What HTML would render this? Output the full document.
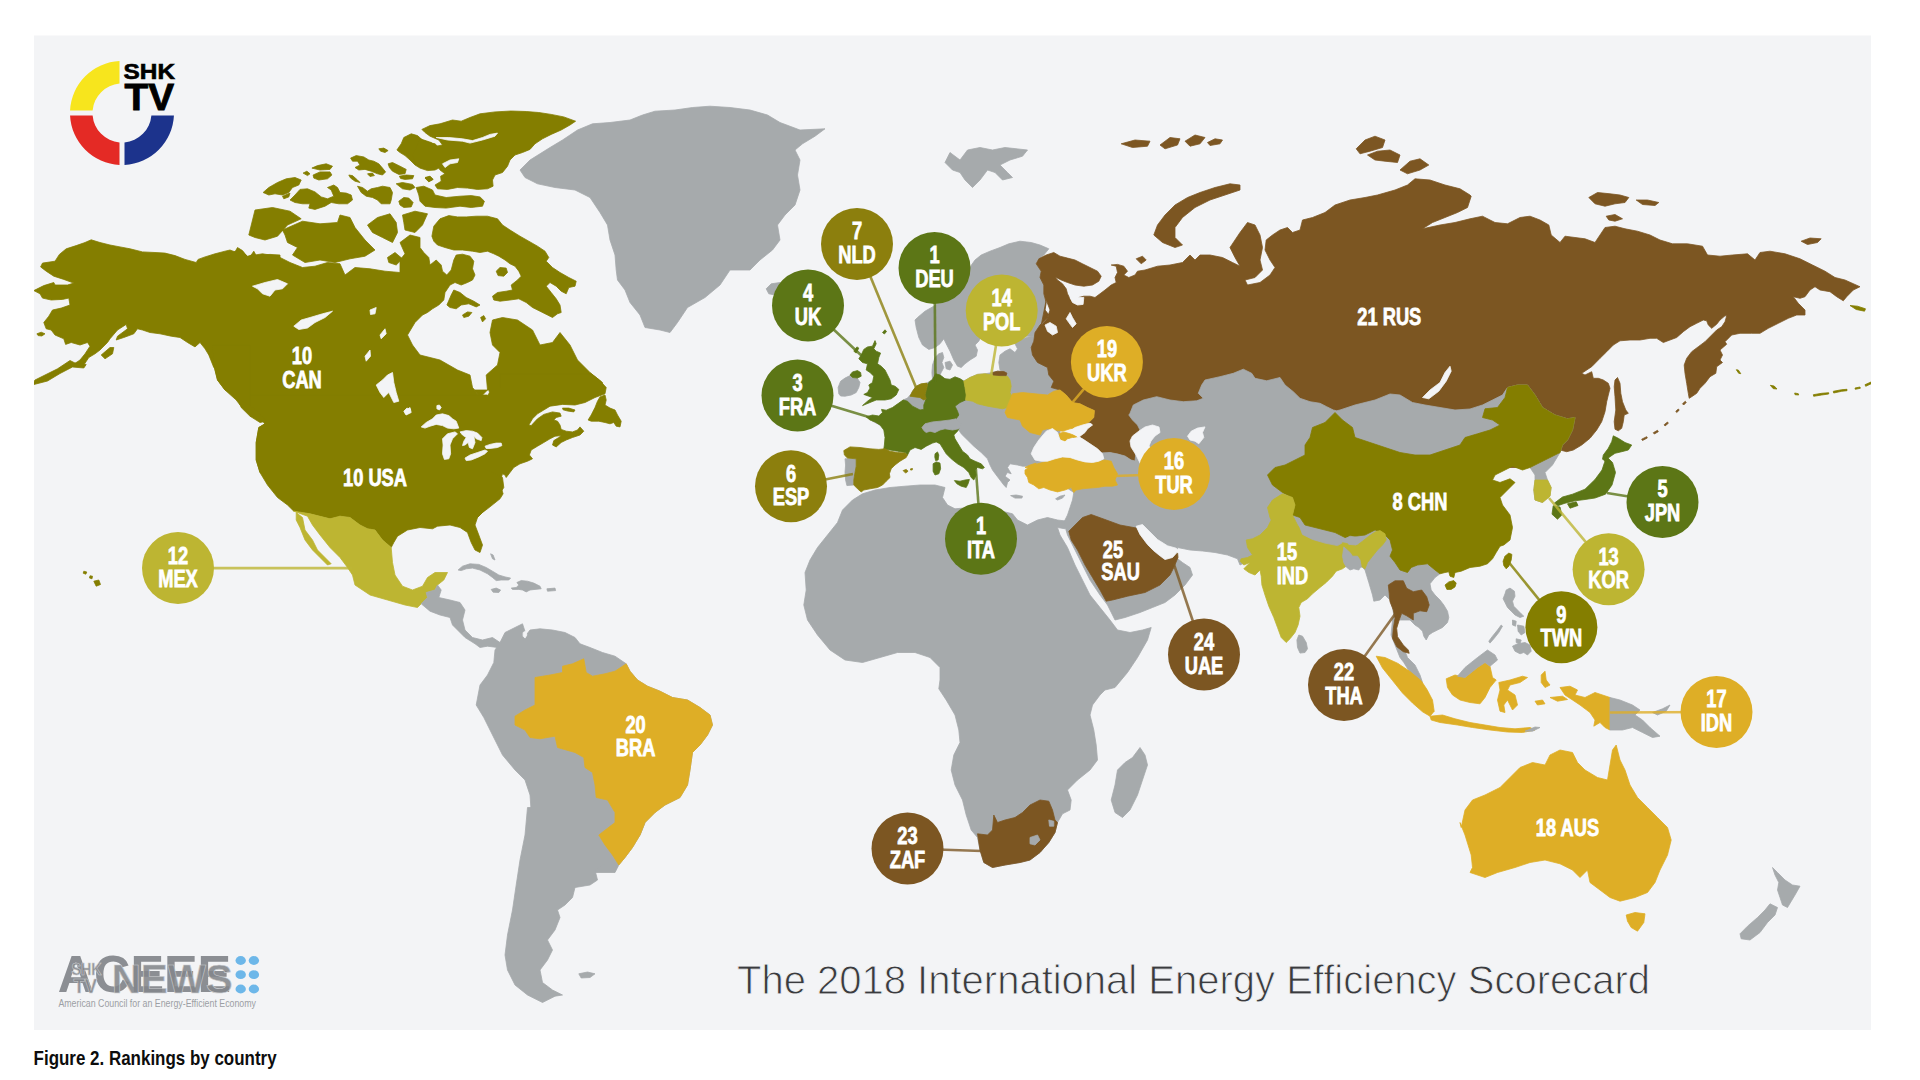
<!DOCTYPE html>
<html lang="en"><head><meta charset="utf-8"><title>The 2018 International Energy Efficiency Scorecard</title>
<style>
html,body{margin:0;padding:0;background:#fff;}
body{width:1920px;height:1080px;overflow:hidden;position:relative;font-family:"Liberation Sans",sans-serif;}
svg{position:absolute;left:0;top:0;display:block}
.lab{font-family:"Liberation Sans",sans-serif;font-weight:700;fill:#fff;text-anchor:middle;stroke:#fff;stroke-width:0.7px;vector-effect:non-scaling-stroke;paint-order:stroke}
</style></head><body>
<svg width="1920" height="1080" viewBox="0 0 1920 1080">
<defs><clipPath id="pc"><rect x="34" y="35.5" width="1837" height="994.5"/></clipPath><filter id="soft" x="-2%" y="-2%" width="104%" height="104%"><feGaussianBlur stdDeviation="0.7"/></filter></defs>
<rect x="0" y="0" width="1920" height="1080" fill="#ffffff"/>
<rect x="34" y="35.5" width="1837" height="994.5" fill="#f3f4f6"/>
<g clip-path="url(#pc)"><g filter="url(#soft)" stroke-linejoin="round">
<path d="M263.1 192.5L268.8 187.5L277.5 182.5L286.2 178.8L295 177.5L301.2 180L298.8 185L292.5 187.5L288.8 192.5L282.5 195L275 193.8L268.8 195.0Z" fill="#847e01" stroke="#847e01" stroke-width="0.8"/>
<path d="M282.5 196.2L290 193.1L288.8 196.9L283.8 198.8Z" fill="#847e01" stroke="#847e01" stroke-width="0.8"/>
<path d="M290 200L295 195L300 189.4L307.5 188.8L315 191.9L321.2 196.9L327.5 198.8L333.8 196.2L331.2 190L327.5 187.5L333.8 185L337.5 187.5L340 192.5L346.2 193.1L351.2 195L352.5 200L347.5 203.8L338.8 203.8L331.2 202.5L325 206.2L315 209.4L308.8 208.1L310 203.8L302.5 203.8L295 202.5Z" fill="#847e01" stroke="#847e01" stroke-width="0.8"/>
<path d="M303.1 173.1L306.9 171.2L310 173.8L307.5 175.6Z" fill="#847e01" stroke="#847e01" stroke-width="0.8"/>
<path d="M311.9 168.1L317.5 165.6L326.2 163.8L332.5 166.2L330 169.4L320 170.0Z" fill="#847e01" stroke="#847e01" stroke-width="0.8"/>
<path d="M313.1 175L320 171.9L330 171.9L331.9 175L327.5 178.8L318.8 180L313.8 178.1Z" fill="#847e01" stroke="#847e01" stroke-width="0.8"/>
<path d="M350.6 158.1L356.2 155.6L363.8 156.9L368.8 160L373.8 161.2L378.8 163.8L382.5 168.1L385.6 171.9L382.5 175L377.5 173.8L371.2 171.2L365 169.4L358.8 170L355 167.5L360 165L357.5 161.2L352.5 161.2Z" fill="#847e01" stroke="#847e01" stroke-width="0.8"/>
<path d="M378.8 148.8L383.8 148.1L388.1 150.6L385 152.5L380.6 151.2Z" fill="#847e01" stroke="#847e01" stroke-width="0.8"/>
<path d="M367.5 173.8L372.5 173.1L374.4 175.6L370 176.5Z" fill="#847e01" stroke="#847e01" stroke-width="0.8"/>
<path d="M348.8 175L352.5 175.6L357.5 180L360 182.5L355 181.2L350.6 178.1Z" fill="#847e01" stroke="#847e01" stroke-width="0.8"/>
<path d="M388.1 163.8L392.5 162.5L400 166.2L406.2 169.4L405 173.8L398.8 174.4L392.5 171.2L389.4 167.5Z" fill="#847e01" stroke="#847e01" stroke-width="0.8"/>
<path d="M399.4 176.2L406.2 175L413.8 175.6L412.5 178.8L405 179.4L400.6 178.5Z" fill="#847e01" stroke="#847e01" stroke-width="0.8"/>
<path d="M396.9 150L401.2 143.8L403.8 137.5L411.2 133.8L417.5 135.6L422.5 140L428.8 142.5L435 143.8L438.8 147.5L445 150L446.2 155L442.5 158.8L445 162.5L440 167.5L435 170L427.5 170.6L420 168.1L415 165L410 160L405 155.6L400 152.5Z" fill="#847e01" stroke="#847e01" stroke-width="0.8"/>
<path d="M357.5 186.2L362.5 187.5L367.5 191.2L371.2 188.8L377.5 187.5L382.5 186.2L390 187.5L392.5 192.5L391.2 200L390 203.8L381.2 203.8L377.5 200L372.5 197.5L366.2 196.2L361.2 192.5Z" fill="#847e01" stroke="#847e01" stroke-width="0.8"/>
<path d="M398.8 201.2L403.8 197.5L408.8 198.1L413.1 202.5L411.2 206.9L403.8 207.5L400 205.0Z" fill="#847e01" stroke="#847e01" stroke-width="0.8"/>
<path d="M396.2 183.8L402.5 182.5L412.5 184.4L415 187.5L410 190L402.5 188.8Z" fill="#847e01" stroke="#847e01" stroke-width="0.8"/>
<path d="M425 177.5L430 176.2L433.1 179.4L428.8 181.2Z" fill="#847e01" stroke="#847e01" stroke-width="0.8"/>
<path d="M421.9 129.4L430 125.6L440 123.8L452.5 120L461.2 121.2L470 117.5L480 113.8L495 111.9L511.2 111L526.2 111.5L538.8 112.5L551.2 114.4L563.8 116.9L575.6 121.2L570 125L561.2 130L551.2 134.4L542.5 138.8L535 143.8L530 149.4L522.5 152.5L515 155L510 160L507.5 166.2L502.5 172.5L495 175L492.5 180L493.1 186.2L487.5 188.8L477.5 189.4L467.5 188.1L457.5 187.5L447.5 189.4L437.5 188.8L435 185L441.2 181.2L440.6 176.2L445 173.8L440 170L437.5 165L432.5 167.5L425 168.8L420 167.5L415 162.5L412.5 155L415 150L420 138.8L423.8 140L431.2 142.5L436.2 146.2L442.5 145L438.8 140L430 136.2L425 132.5Z" fill="#847e01" stroke="#847e01" stroke-width="0.8"/>
<path d="M425 178.1L430 176.5L433.1 179.4L428.8 181.9Z" fill="#847e01" stroke="#847e01" stroke-width="0.8"/>
<path d="M416.2 187.5L423.8 186.2L432.5 190L435 195L446.2 197.5L460 196.2L471.2 195.6L480 196.9L484.4 201.2L482.5 206.2L471.2 207.5L460 206.2L446.2 208.1L435 207.5L425 206.2L420 201.2L418.8 195.0Z" fill="#847e01" stroke="#847e01" stroke-width="0.8"/>
<path d="M520 170L530 160L550 147.5L562.5 140L577.5 130L592.5 123.8L610 122.5L630 120L642.5 115L655 111.2L675 110L692.5 107.5L710 106.2L730 107.5L750 110L767.5 115L780 122.5L800 130L825 128.8L815 136.2L802.5 143.8L795 150L800 160L797.5 175L800 190L795 205L785 215L777.5 225L780 240L772.5 250L760 260L750 270L730 270L720 285L705 297.5L687.5 307.5L677.5 322.5L670 332.5L660 330L645 327.5L640 315L630 302.5L625 290L617.5 280L616.2 270L615 255L610 240L607.5 225L600 212.5L590 197.5L575 190L555 187.5L537.5 183.8L525 177.5Z" fill="#a6aaac" stroke="#a6aaac" stroke-width="0.8"/>
<path d="M40.6 266.9L42.5 263.1L55 261.2L59.4 254.4L66.2 248.8L76.2 245.6L85 242.5L91.2 239.8L100 242.5L110 245L120 246.9L130 248.8L142.5 251.9L155 252.5L165 253.1L175 255.6L185 259.4L196.2 262.5L198.1 259.4L205 256.9L215 253.8L225 251.2L230 250L235 251.9L237.5 247.5L242.5 250.6L247.5 256.9L251.2 255L253.8 251.2L256.9 256.9L261.2 257.5L265 255L270 254.4L280 255L280 367.5L213.8 367.5L208.8 355L205 348.8L200 342.5L195 346.9L187.5 342.5L180 337.5L171.2 336.2L160 333.8L150 332.5L142.5 330L137.5 328.8L133.8 333.8L123.8 337.5L116.2 340L117.5 336.2L127.5 328.8L126.2 324.4L117.5 330L110 338.8L107.5 342.5L100 350L95 353.8L88.8 357.5L83.8 365L72.5 365L80 360L85 353.8L90 346.2L87.5 342.5L80 345L71.2 342.5L65.6 344.4L63.8 338.8L55 335L51.2 330L46.2 328.8L43.8 322.5L48.8 316.2L52.5 310L61.2 308.1L70 305L68.8 298.1L62.5 299.4L51.2 300L42.5 298.1L40 293.8L33.8 290.6L43.8 285.6L53.8 282.5L55 285L67.5 285L73.8 283.1L63.8 279.4L53.8 276.2L46.2 271.2Z" fill="#847e01" stroke="#847e01" stroke-width="0.8"/>
<path d="M101.2 355L110 347.5L113.8 347.5L112.5 353.8L105 358.8Z" fill="#847e01" stroke="#847e01" stroke-width="0.8"/>
<path d="M36.9 333.8L41.2 332.2L45 333.8L41.9 336L38.1 335.6Z" fill="#847e01" stroke="#847e01" stroke-width="0.8"/>
<path d="M86.2 364.5L75 363L70 360.5L57.5 368.8L45 375L35 380L32 385L47.5 381L60 373.5L72.5 367L83.8 368.0Z" fill="#847e01" stroke="#847e01" stroke-width="0.8"/>
<path d="M248.8 235L255 210L272.5 207.5L290 211.2L301.2 218.8L287.5 225L277.5 236.2L265 240L255 237.5Z" fill="#847e01" stroke="#847e01" stroke-width="0.8"/>
<path d="M282.5 230L302.5 221.2L320 223.8L337.5 222.5L340 215L350 217.5L355 227.5L365 240L375 250L365 256.2L350 258.8L335 262.5L320 260L305 262.5L292.5 255L297.5 247.5L287.5 242.5L285 235.0Z" fill="#847e01" stroke="#847e01" stroke-width="0.8"/>
<path d="M367.5 225L377.5 217.5L390 213.8L396.2 222.5L397.5 232.5L392.5 242.5L382.5 237.5L372.5 232.5Z" fill="#847e01" stroke="#847e01" stroke-width="0.8"/>
<path d="M402.5 215L415 211.2L427.5 213.8L422.5 225L415 232.5L405 230L403.8 222.5Z" fill="#847e01" stroke="#847e01" stroke-width="0.8"/>
<path d="M387.5 257.5L395 252.5L402.5 258.8L396.2 265L388.8 262.5Z" fill="#847e01" stroke="#847e01" stroke-width="0.8"/>
<path d="M431.9 236.2L433.8 226.2L440 218.8L448.8 215.6L457.5 216.9L466.2 216.9L476.2 216.2L487.5 216.2L497.5 218.8L502.5 225L510 230L520 236.2L528.8 241.2L537.5 246.2L545 251.2L548.8 257.5L546.2 261.2L552.5 267.5L560 272.5L568.8 277.5L576.2 281.2L575 286.2L568.8 287.5L566.2 293.8L561.2 291.2L556.2 286.2L550 282.5L546.2 286.2L551.2 292.5L556.2 298.8L560 305L561.2 312.5L557.5 313.8L552.5 317.5L547.5 315L540 311.2L532.5 307.5L526.2 302.5L518.8 298.8L510 300L500 301.2L493.8 300L492.5 296.2L497.5 292.5L506.2 291.2L512.5 290L511.2 285L517.5 280L521.2 276.2L518.8 271.2L515 266.2L510 263.8L505 260L498.8 256.2L493.8 253.8L487.5 251.2L480 252.5L472.5 251.2L462.5 250L453.8 250L445 247.5L437.5 245L433.8 241.2Z" fill="#847e01" stroke="#847e01" stroke-width="0.8"/>
<path d="M496.2 271.2L500 267.5L506.2 268.1L507.5 272.5L503.8 276.2L498.1 275.6Z" fill="#847e01" stroke="#847e01" stroke-width="0.8"/>
<path d="M240 250L247.5 256.2L262.5 253.8L277.5 256.2L290 262.5L302.5 267.5L315 266.2L327.5 262.5L340 263.8L345 275L355 267.5L370 268.8L385 271.2L400 272.5L400 260L405 253.8L400 242.5L410 235L420 237.5L420 247.5L423.8 252.5L428.8 257.5L430 265L436.2 260L441.2 265L442.5 271.2L446.8 275L451.2 270L453.8 260L456.2 255L462.5 254.2L470 256.2L473.8 261.2L472.5 268.8L475 275L472.5 280L467.5 282.5L461.2 285L455 282.5L450 285L445 292.5L443.8 300L438.8 305L432.5 308.8L427.5 312.5L422.5 315L415 322.5L407.5 335L412.5 345L420 355L440 360L457.5 370L470 375L472.5 387.5L480 397.5L487.5 390L486.2 375L497.5 365L500 352.5L492.5 345L490 332.5L492.5 320L502.5 317.5L517.5 320L532.5 330L540 345L552.5 342.5L560 332.5L570 345L577.5 360L590 372.5L602.5 382.5L600 390L415 390L415 472.5L260 472.5L256.2 460L256.2 442.5L258.8 427.5L265 423.8L260 417.5L250 407.5L237.5 395L225 390L217.5 380L213.8 365L207.5 350L207.5 258.8L230 253.0Z" fill="#847e01" stroke="#847e01" stroke-width="0.8"/>
<path d="M446.9 305L451.2 295L453.8 290L460 292.5L466.2 297.5L473.8 301.2L480 305L476.2 306.9L468.8 303.8L461.2 305L456.2 308.8L450 307.5Z" fill="#847e01" stroke="#847e01" stroke-width="0.8"/>
<path d="M462.5 315L467.5 311.9L471.9 312.5L468.8 316.2L463.8 317.5Z" fill="#847e01" stroke="#847e01" stroke-width="0.8"/>
<path d="M480.6 317.5L483.8 315.6L485.6 318.8L482.5 321.9Z" fill="#847e01" stroke="#847e01" stroke-width="0.8"/>
<path d="M387.5 387.5L471.9 387.5L473.8 389.4L477.5 394L482.5 398.4L487.5 396.5L489.4 392.5L488.5 387.5L500 387.5L500 373.8L591.2 373.8L599.4 380L606.2 387.5L605 393.8L595 397.5L585 402.5L575 405L562.5 404.4L550 406.2L543.8 410L537.5 413.8L532.5 418.8L528.8 425L531.2 425.6L537.5 418.8L543.8 414.4L552.5 411.9L560 413.1L561.2 416.2L556.2 417.5L553.8 420L557.5 421.2L560 425L561.2 429.4L566.2 431.2L572.5 431.9L577.5 430L580 426.9L583.8 431.2L580 435L572.5 437.5L566.2 440L561.2 442.5L556.2 446.9L552.5 445L553.8 440.6L558.8 437.5L561.2 435.6L555 436.2L550 438.8L543.8 442.5L537.5 446.2L531.2 450L529.4 455L532.5 458.8L527.5 461.2L520 463.8L513.8 467.5L510 472.5L506.2 477.5L505 475L502.5 473.8L500.6 480L502.5 485L501.9 490L503.1 493.8L500 498.8L493.8 503.8L487.5 508.8L482.5 512.5L480 515L477.5 517.5L387.5 517.5Z" fill="#847e01" stroke="#847e01" stroke-width="0.8"/>
<path d="M600 396.9L605 395L606.2 400L605 405L610 408.1L615 410L617.5 415L621.2 421.2L620 426.9L616.2 426.2L613.8 422.5L610 423.8L605 422.5L598.8 421.2L591.2 421.2L588.1 420L591.2 415L595 407.5L597.5 401.2Z" fill="#847e01" stroke="#847e01" stroke-width="0.8"/>
<path d="M562.5 408.1L568.8 408.1L575 410L573.8 411.9L567.5 411L563.1 409.8Z" fill="#847e01" stroke="#847e01" stroke-width="0.8"/>
<path d="M237.5 395L250 407.5L260 417.5L265 423.8L258.8 427.5L256.2 442.5L256.2 460L260 472.5L267.5 485L277.5 497.5L287.5 505L293.8 511.2L310 513.8L330 518.8L340 516.2L350 517.5L360 525L367.5 528.8L375 530L382.5 540L391.2 547.5L393.8 542.5L397.5 536.2L407.5 530L420 527.5L432.5 528.8L437.5 526.2L450 525L460 527.5L467.5 532.5L471.2 542.5L475 550L480 552.5L482.5 545L478.8 535L475 525L477.5 517.5L487.5 507.5L497.5 497.5L503.8 487.5L502.5 477.5L487.5 470L487.5 395.0Z" fill="#847e01" stroke="#847e01" stroke-width="0.8"/>
<path d="M212.5 345L213.8 365L217.5 380L225 390L236.2 400L240 405L250 410L250 345.0Z" fill="#847e01" stroke="#847e01" stroke-width="0.8"/>
<path d="M237.5 398.8L247.5 403.8L257.5 411.2L266.2 421.2L260 422.5L250 416.2L241.2 407.5Z" fill="#847e01" stroke="#847e01" stroke-width="0.8"/>
<path d="M296.2 512.5L302.5 517.5L305 530L312.5 540L317.5 550L325 557.5L331.2 563.8L327.5 565L320 557.5L312.5 550L305 540L300 527.5L296.2 520.0Z" fill="#bdb533" stroke="#bdb533" stroke-width="0.8"/>
<path d="M293.8 511.2L307.5 516.2L312.5 525L320 535L330 547.5L340 557.5L347.5 567.5L352.5 575L355 585L370 595L387.5 600L405 605L417.5 607.5L421.2 603.8L427.5 597.5L426.2 592.5L435 590L437.5 585L443.8 580L447.5 572.5L435 572.5L427.5 577.5L422.5 586.2L412.5 590L402.5 586.2L395 575L392.5 562.5L391.2 547.5L382.5 540L375 530L367.5 528.8L360 525L350 517.5L340 516.2L330 518.8L310 513.8Z" fill="#bdb533" stroke="#bdb533" stroke-width="0.8"/>
<path d="M421.2 603.8L427.5 597.5L426.2 592.5L435 590L437.5 585L441.2 590L438.8 597.5L450 600L460 602.5L465 610L462.5 620L465 630L472.5 637.5L482.5 640L492.5 637.5L500 642.5L497.5 647.5L487.5 646.2L480 647.5L475 643.8L465 637.5L457.5 630L452.5 625L450 617.5L440 615L430 611.2Z" fill="#a6aaac" stroke="#a6aaac" stroke-width="0.8"/>
<path d="M458.1 570L462.5 566.2L470 563.8L478.8 564.4L486.2 567.5L492.5 571.2L498.8 575L505 576.9L510.6 578.1L508.8 580L501.2 580L496.2 580.6L492.5 577.5L487.5 573.8L480 570L472.5 568.1L466.2 568.8L461.2 570.6Z" fill="#a6aaac" stroke="#a6aaac" stroke-width="0.8"/>
<path d="M516.9 582.5L521.2 580.6L527.5 581.2L533.8 583.1L540 586.2L541.2 588.8L535 589.4L530 590L526.2 591.9L522.5 590L518.8 589.4L512.5 589.4L511.2 588.1L516.2 587.5L518.8 585.0Z" fill="#a6aaac" stroke="#a6aaac" stroke-width="0.8"/>
<path d="M491.2 589.4L496.2 588.1L500.6 590L498.8 592.5L493.1 592.2Z" fill="#a6aaac" stroke="#a6aaac" stroke-width="0.8"/>
<path d="M546.9 588.8L555 588.1L555.6 590.6L547.5 591.2Z" fill="#a6aaac" stroke="#a6aaac" stroke-width="0.8"/>
<path d="M93.8 581.2L98.8 580L100.5 584.5L96.2 586.2Z" fill="#847e01" stroke="#847e01" stroke-width="0.8"/>
<path d="M83.8 571.2L86.8 572L85.8 574.2L83.2 573.2Z" fill="#847e01" stroke="#847e01" stroke-width="0.8"/>
<path d="M90 575.8L92.5 576.2L92 578.8L89.5 578.0Z" fill="#847e01" stroke="#847e01" stroke-width="0.8"/>
<path d="M490.6 553.8L493.1 555L495 560L492.5 558.8Z" fill="#a6aaac" stroke="#a6aaac" stroke-width="0.8"/>
<path d="M500 642.5L505 632.5L515 627.5L522.5 623.8L526.2 635L530 630L540 628.8L552.5 630L565 632.5L575 637.5L580 643.8L590 647.5L602.5 652.5L615 656.2L626.2 663.8L630 671.2L637.5 680L647.5 686.2L660 691.2L672.5 697.5L687.5 700L700 707.5L710 715L712.5 725L707.5 735L700 745L692.5 752.5L690 770L687.5 785L680 797.5L665 805L655 812.5L645 822.5L640 835L632.5 847.5L625 857.5L618.8 865L615 872.5L525 872.5L527.5 850L530 830L531.2 812.5L530 795L525 780L515 770L502.5 755L492.5 735L483.8 717.5L476.2 705L480 685L487.5 675L493.8 662.5L495 650.0Z" fill="#a6aaac" stroke="#a6aaac" stroke-width="0.8"/>
<path d="M527.5 807.5L525 835L520 860L516.2 885L512.5 910L507.5 935L505 955L507.5 970L515 985L527.5 995L542.5 1002.5L555 996.2L562.5 995L552.5 990L542.5 982.5L540 970L547.5 960L552.5 950L547.5 940L555 930L560 917.5L557.5 910L565 905L572.5 897.5L575 887.5L590 885L597.5 880L595 870L602.5 865L615 863.8L620 857.5L630 847.5L640 835L645 822.5L652.5 807.5Z" fill="#a6aaac" stroke="#a6aaac" stroke-width="0.8"/>
<path d="M578.8 973.8L587.5 972L595 973.8L590 977.5L581.2 978.0Z" fill="#a6aaac" stroke="#a6aaac" stroke-width="0.8"/>
<path d="M562.5 666.2L572.5 663.8L583.8 658.8L586.2 672.5L592.5 676.2L605 673.8L615 671.2L626.2 663.8L630 671.2L637.5 680L647.5 686.2L660 691.2L672.5 697.5L687.5 700L700 707.5L710 715L712.5 725L707.5 735L700 745L692.5 752.5L690 770L687.5 785L680 797.5L665 805L655 812.5L645 822.5L640 835L632.5 847.5L625 857.5L618.8 865L612.5 855L605 845L598.8 835L615 822.5L615 812.5L607.5 800L596.2 797.5L595 785L592.5 772.5L585 767.5L583.8 757.5L575 752.5L557.5 747.5L555 736.2L540 738.8L530 737.5L525 730L515 725L515 716.2L525 710L535 705L535 677.5L550 675L562.5 672.5Z" fill="#deae27" stroke="#deae27" stroke-width="0.8"/>
<path d="M862.5 493.8L875 490L890 487.5L905 486.2L920 485L935 485L945 487.5L942.5 497.5L947.5 505L955 508.8L970 507.5L992.5 508.8L1012.5 513.8L1017.5 520L1027.5 525L1037.5 520L1047.5 517.5L1057.5 520L1067.5 521.2L1065 528.8L1057.5 527.5L1060 535L1067.5 547.5L1075 565L1082.5 580L1090 595L1100 607.5L1110 620L1117.5 630L1130 632.5L1142.5 630L1151.2 627.5L1147.5 640L1137.5 657.5L1127.5 672.5L1115 687.5L1105 690L1100 695L1092.5 705L1090 715L1093.8 730L1096.2 745L1097.5 760L1090 770L1077.5 780L1067.5 790L1071.2 800L1070 810L1062.5 813.8L1057.5 822.5L1055 832.5L1048.8 842.5L1040 852.5L1030 860L1020 862.5L1005 865L992.5 867.5L983.8 862.5L980 850L977.5 837.5L971.2 830L966.2 815L962.5 800L955 785L951.2 770L953.8 755L960 742.5L958.8 730L955 715L946.2 700L938.8 688.8L940 680L940 667.5L930 657.5L915 652.5L897.5 652.5L880 657.5L862.5 662.5L845 660L830 650L817.5 635L807.5 620L803.8 605L806.2 590L805 572.5L810 560L817.5 547.5L827.5 535L837.5 522.5L842.5 510L852.5 500.0Z" fill="#a6aaac" stroke="#a6aaac" stroke-width="0.8"/>
<path d="M977.5 833.8L987.5 835L992.5 830L993.8 815L997.5 822.5L1005 820L1015 817.5L1022.5 812.5L1030 805L1040 800L1048.8 801.2L1052.5 810L1055 820L1057.5 822.5L1055 832.5L1048.8 842.5L1040 852.5L1030 860L1020 862.5L1005 865L992.5 867.5L983.8 862.5L980 850.0Z" fill="#7c5724" stroke="#7c5724" stroke-width="0.8"/>
<path d="M1030 837.5L1037.5 835L1040 840L1035 845L1030 843.8Z" fill="#a6aaac" stroke="#a6aaac" stroke-width="0.8"/>
<path d="M1048.8 820L1053.8 821.2L1053.8 826.2L1049.5 826.2Z" fill="#a6aaac" stroke="#a6aaac" stroke-width="0.8"/>
<path d="M1140 747.5L1145 755L1147.5 765L1142.5 780L1137.5 795L1130 810L1122.5 817.5L1115 812.5L1111.2 800L1115 785L1117.5 770L1125 762.5L1132.5 757.5Z" fill="#a6aaac" stroke="#a6aaac" stroke-width="0.8"/>
<path d="M903.1 400L907.5 398.1L911.2 393.8L915 387.5L920 384.4L926.9 383.1L932.5 379.4L931.9 372.5L932.5 365L935 357.5L938.8 353.8L942.5 352.5L943.8 357.5L941.9 362.5L943.8 367.5L941.2 372.5L940 375L945 378.8L950 379.4L955 376.9L960 378.8L963.8 381.2L970 377.5L977.5 374.4L985 373.8L992.5 372.5L997.5 371.2L1003.8 371.5L1006.2 372.5L1000 370L998.8 362.5L1000 355L1005 351.2L1010 348.8L1015 352.5L1017.5 348.8L1015 343.8L1020 340L1026.2 337.5L1032.5 336.2L1040 335L1045 332.5L1060 332.5L1060 466.2L1022.5 466.2L1017.5 465L1010 463.8L1007.5 467.5L1011.2 473.8L1007.5 472.5L1005 476.2L1010 480L1007.5 482.5L1006.2 487.5L1003.8 485L1000 480L996.2 475L992.5 470L990 465L987.5 458.8L981.2 452.5L973.8 446.2L967.5 440L961.2 433.8L958.8 430L923.8 432.5L907.5 450L886.2 448.8L887.5 437.5L886.2 430L882.5 426.2L877.5 423.8L872.5 421.2L876.2 418.8L890 413.1L900 406.2Z" fill="#a6aaac" stroke="#a6aaac" stroke-width="0.8"/>
<path d="M945 362.5L950 361.2L952.5 365L950 370L946.2 368.8Z" fill="#a6aaac" stroke="#a6aaac" stroke-width="0.8"/>
<path d="M838.8 393.8L838.1 387.5L840.6 381.2L845 378.1L850 375.6L852.5 377.8L857.5 378.5L860 382.5L858.8 387.5L856.2 392.5L851.2 395L845 396.2L840.6 396.0Z" fill="#a6aaac" stroke="#a6aaac" stroke-width="0.8"/>
<path d="M845 458.8L856.2 458.8L856.2 466.2L855 472.5L853.8 480L853.5 485L846.9 485.6L845.6 480L845 472.5L845.6 465.0Z" fill="#a6aaac" stroke="#a6aaac" stroke-width="0.8"/>
<path d="M1010.6 495.6L1016.2 495L1022.5 496.2L1021.9 498.1L1015 498.1Z" fill="#a6aaac" stroke="#a6aaac" stroke-width="0.8"/>
<path d="M915 320L917.5 317.5L925 311.2L933.8 306.2L941.2 300L950 292.5L960 280L970.6 266.2L975 260L981.2 255L990 251.2L1000 247.5L1008.8 243.8L1020 241.2L1031.2 242.5L1040 245L1048.8 248.8L1043.8 255L1037.5 260L1036.2 263.8L1041.2 271.2L1040 277.5L1043.8 285L1043.8 293.8L1046.2 302.5L1045 310L1048.8 315L1046.2 320L1041.2 325L1043.8 332.5L1041.2 336.2L1025 336.2L1010 335L1002.5 330L1000 321.2L1002.5 310L1007.5 300L1007.5 290L1000 296.2L992.5 307.5L986.2 320L981.2 327.5L981.2 336.2L978.8 341.2L975 345L977.5 350L976.2 356.2L970 360L965 363.8L961.2 367.5L957.5 366.2L953.8 360L950 351.2L946.2 343.8L943.8 338.8L940 343.8L935 347.5L928.8 349.4L922.5 345L918.8 337.5L916.2 327.5Z" fill="#a6aaac" stroke="#a6aaac" stroke-width="0.8"/>
<path d="M875 340.6L872.5 346.2L867.5 346.9L863.8 349.4L861.2 355L858.8 358.8L862.5 362.5L867.5 363.8L866.2 370L870 372.5L873.8 376.2L872.5 382.5L868.8 385L870 388.1L867.5 392.5L863.8 394.4L868.8 396.2L872.5 397.5L867.5 401.2L862.5 405.6L870 402.5L876.2 400L885 400L891.2 398.8L896.2 395L898.8 389.4L895 386.2L891.2 385L890 380L887.5 375L885 370L881.2 366.2L877.5 363.8L878.8 357.5L880.6 353.1L876.2 351.2L873.8 348.8L876.2 343.8Z" fill="#5b7616" stroke="#5b7616" stroke-width="0.8"/>
<path d="M850 375L852.5 371.9L857.5 370.6L860.6 372.5L861.2 376.2L857.5 378.1L852.5 377.5Z" fill="#5b7616" stroke="#5b7616" stroke-width="0.8"/>
<path d="M882.5 332.5L885 329.8L886.5 331.5L884.4 334.0Z" fill="#5b7616" stroke="#5b7616" stroke-width="0.8"/>
<path d="M853.8 351.2L856.9 346.9L858.8 348.1L856.2 353.1Z" fill="#5b7616" stroke="#5b7616" stroke-width="0.8"/>
<path d="M866.2 416.9L872.5 415L878.8 416L882.5 412.5L881.5 409.4L886.2 410.2L892.5 407.5L898.8 403.1L903.1 400L907.5 401.2L912.5 406.2L920 410L923.8 409.4L923.8 405L926.2 398.8L925 395L926.2 390L927.5 385L928.8 382.5L932.5 379.4L935.6 373.8L940 375L945 378.8L950 379.4L955 376.9L960 378.8L963.8 381.2L965 387.5L966.2 395L965.6 400L960 402.5L955 406.2L957.5 411.2L958.8 415L956.2 418.8L958.8 428.8L957.5 431.2L953.8 435L955 438.8L958.8 445L962.5 451.2L967.5 455L970 458.8L975 461.2L981.2 463.8L984.4 467.5L982.5 468.8L977.5 467.5L975 470L976.2 475L973.8 480L971.2 477.5L968.8 472.5L963.8 467.5L957.5 463.8L951.2 458.8L946.2 453.8L943.1 448.8L940 443.8L936.2 441.9L932.5 443.1L926.2 446.2L921.2 449.4L915 447.5L910 450L907.5 455L905 452.5L897.5 451.2L890 450L883.8 448.8L884.4 445L885 437.5L883.8 430L880 425L875 421.9L870 420.0Z" fill="#5b7616" stroke="#5b7616" stroke-width="0.8"/>
<path d="M921.9 427.5L925 423.8L932.5 421.9L940 421.2L950 420L956.2 418.8L961.2 423.8L958.8 428.8L952.5 430L945 428.8L940 430L935 432.5L930 431.2L926.2 432.5L923.8 430.6Z" fill="#a6aaac" stroke="#a6aaac" stroke-width="0.8"/>
<path d="M954.4 480.6L960 481.2L965 480L969.4 479.4L968.1 483.8L966.2 487.5L961.2 486.2L956.9 483.8Z" fill="#5b7616" stroke="#5b7616" stroke-width="0.8"/>
<path d="M933.1 463.8L936.2 461.9L940 463.1L940.6 468.8L938.8 473.8L935 475L933.1 471.2Z" fill="#5b7616" stroke="#5b7616" stroke-width="0.8"/>
<path d="M935 453.8L937.5 451.9L938.8 455L938.1 460L935.6 460.6L934.8 456.9Z" fill="#5b7616" stroke="#5b7616" stroke-width="0.8"/>
<path d="M910 396.2L912.5 391.2L916.2 386.2L921.2 383.8L926.9 383.1L927.5 385L926.2 390L925 395L926.2 398.8L923.8 400L920 397.5L915 396.9Z" fill="#8c7f0e" stroke="#8c7f0e" stroke-width="0.8"/>
<path d="M843.8 450.6L850 446.9L860 447.5L870 448.8L878.8 449.4L885 448.8L890 451.2L897.5 452.5L905 453.1L907.5 455L906.2 457.5L900 461.2L895 465L891.2 468.8L889.4 473.8L890 477.5L886.2 481.2L882.5 485L877.5 487.5L870 488.8L863.8 490L861.2 491.9L857.5 488.8L853.8 485L853.8 480L855 472.5L856.2 466.2L856.2 458.8L847.5 458.1L844.4 455.0Z" fill="#8c7f0e" stroke="#8c7f0e" stroke-width="0.8"/>
<path d="M903.1 470.6L906.2 469.4L908.1 471.2L905.6 473.1Z" fill="#8c7f0e" stroke="#8c7f0e" stroke-width="0.8"/>
<path d="M910.6 468.8L912.5 468.5L912.2 470L910.5 470.0Z" fill="#8c7f0e" stroke="#8c7f0e" stroke-width="0.8"/>
<path d="M963.8 381.2L970 377.5L977.5 374.4L985 373.8L992.5 375L1000 375.6L1007.5 376.2L1010 380L1011.2 386.2L1010 392.5L1012.5 397.5L1011.2 402.5L1007.5 407.5L1002.5 408.8L995 407.5L987.5 406.2L982.5 405L977.5 403.8L972.5 401.2L965.6 400L966.2 395L965 387.5Z" fill="#bdb533" stroke="#bdb533" stroke-width="0.8"/>
<path d="M992.5 372.5L997.5 371.2L1003.8 371.5L1006.9 373.1L1006.2 375.6L1000 375.6L993.1 375.0Z" fill="#7c5724" stroke="#7c5724" stroke-width="0.8"/>
<path d="M1036.2 263.8L1038.8 258.8L1046.2 255L1053.8 252.5L1060 256.2L1067.5 258.1L1075 260L1082.5 263.8L1090 267.5L1097.5 271.2L1101.2 276.2L1098.8 281.2L1092.5 285L1083.8 286.2L1075 285L1067.5 282.5L1061.2 280L1055 276.9L1057.5 280L1062.5 283.8L1066.2 288.8L1067.5 293.8L1070 298.8L1073.8 302.5L1078.8 297.5L1083.8 296.2L1090 296.2L1095 297.5L1100 293.8L1105 290L1111.2 285L1116.2 282.5L1115 277.5L1117.5 272.5L1116.2 266.2L1111.2 265L1117.5 264.4L1123.8 266.2L1127.5 271.2L1123.8 275L1128.8 277.5L1135 275L1137.5 271.2L1145 270L1157.5 266.2L1170 265L1182.5 262.5L1190 255L1195 260L1200 255L1210 255L1222.5 257.5L1232.5 262.5L1240 266.2L1235 257.5L1230 247.5L1235 240L1240 232.5L1247.5 222.5L1255 225L1260 235L1262.5 247.5L1260 260L1262.5 270L1255 277.5L1245 280L1247.5 285L1260 282.5L1270 275L1275 267.5L1270 260L1265 250L1266.2 240L1272.5 235L1280 230L1287.5 227.5L1292.5 232.5L1300 230L1302.5 220L1312.5 217.5L1325 212.5L1335 205L1350 200L1365 197.5L1377.5 195L1395 190L1407.5 185L1415 178.8L1430 180L1445 185L1460 188.8L1470 195L1471.2 196.2L1467.5 207.5L1457.5 212.5L1445 217.5L1432.5 222.5L1422.5 228.8L1440 225L1455 222.5L1470 218.8L1482.5 216.2L1495 222.5L1507.5 223.8L1520 217.5L1530 216.2L1540 220L1548.8 225L1551.2 235L1560 242.5L1565 236.2L1575 237.5L1585 238.8L1595 242.5L1600 235L1605 227.5L1615 226.2L1625 228.8L1637.5 231.2L1650 235L1660 240L1672.5 243.8L1687.5 243.8L1702.5 246.2L1707.5 255L1720 256.2L1732.5 255L1747.5 253.8L1755 260L1760 252.5L1770 251.2L1785 253.8L1800 258.8L1812.5 265L1825 271.2L1835 277.5L1845 280L1858.8 286.2L1860 286.7L1853.3 290L1846.7 296.7L1843.3 300.8L1836.7 296.7L1830 291.7L1820 290L1815 286.7L1810 290L1805 296.7L1800 298.3L1793.3 296.7L1798.3 303.3L1805 310L1805 315L1796.7 315L1788.3 318.3L1778.3 323.3L1768.3 328.3L1760 333.3L1751.7 333.3L1740 333.3L1731.7 335L1725 341.7L1726.7 344.2L1720 350L1722.5 355L1720 360L1722.5 362.5L1716.7 366.7L1715.8 373.3L1710 376.7L1705 383.3L1700 388.3L1696.7 393.3L1691.7 396.7L1689.2 398.3L1688.3 393.3L1686.7 383.3L1685 373.3L1684.2 365L1686.7 358.3L1691.7 351.7L1698.3 346.7L1705 341.7L1711.7 335L1716.7 330L1721.7 326.7L1725 321.7L1726.7 315.8L1725 315.8L1720 320L1716.7 324.2L1711.7 328.3L1708.3 325L1706.7 320.8L1703.3 320L1696.7 323.3L1690 326.7L1683.3 331.7L1676.7 337.5L1670 340L1663.3 342.5L1656.7 338.3L1650 338.3L1640 340L1630 340L1620 340.8L1613.3 345L1606.7 351.7L1600 358.3L1591.7 366.7L1581.7 373.3L1585 375L1591.7 371.7L1593.3 378.3L1598.3 378.3L1603.3 380L1608.3 383.3L1610 388.3L1608.3 395L1606.7 401.7L1605 411.7L1601.7 421.7L1596.7 430L1590 438.3L1581.7 445L1573.3 450L1566.7 451.7L1560 450L1560 452.5L1525 467.5L1425 467.5L1325 430L1275 405L1200 412.5L1140 430L1136.2 457.5L1135 461.2L1131.2 460L1125 456.2L1117.5 453.8L1110 452.5L1102.5 453.8L1097.5 448.8L1090 443.8L1082.5 438.8L1080 436.2L1087.5 428.8L1092.5 425L1091.2 423.1L1087.5 425L1085 425L1090 421.2L1093.8 417.5L1094.4 410.6L1087.5 407.5L1080 403.8L1072.5 402.5L1066.2 395L1060 390L1051.2 387.5L1053.8 381.2L1048.8 375L1047.5 367.5L1037.5 362.5L1032.5 355L1031.2 347.5L1033.8 341.2L1035 332.5L1040 325L1047.5 317.5L1050 310L1046.2 300L1041.2 325L1046.2 320L1048.8 315L1045 310L1046.2 302.5L1043.8 293.8L1043.8 285L1040 277.5L1041.2 271.2Z" fill="#7c5724" stroke="#7c5724" stroke-width="0.8"/>
<path d="M1153.8 235L1157.5 225L1165 215L1175 205L1187.5 197.5L1200 192.5L1215 187.5L1230 183.8L1240 185L1240 190L1225 195L1210 200L1195 207.5L1182.5 217.5L1175 227.5L1175 237.5L1182.5 245L1175 247.5L1162.5 242.5Z" fill="#7c5724" stroke="#7c5724" stroke-width="0.8"/>
<path d="M1136.2 258.8L1142.5 256.2L1146.2 260L1141.2 263.8Z" fill="#7c5724" stroke="#7c5724" stroke-width="0.8"/>
<path d="M1121.2 143.8L1135 140L1150 141.2L1147.5 146.2L1132.5 147.5Z" fill="#7c5724" stroke="#7c5724" stroke-width="0.8"/>
<path d="M1160 145L1170 137.5L1180 138.8L1177.5 145L1165 148.8Z" fill="#7c5724" stroke="#7c5724" stroke-width="0.8"/>
<path d="M1185 141.2L1195 135L1205 137.5L1200 143.8L1190 146.2Z" fill="#7c5724" stroke="#7c5724" stroke-width="0.8"/>
<path d="M1207.5 142.5L1215 138.8L1222.5 140L1220 143.8L1210 145.5Z" fill="#7c5724" stroke="#7c5724" stroke-width="0.8"/>
<path d="M1356.2 148.8L1365 140L1375 136.2L1385 140L1382.5 147.5L1370 151.2L1360 153.8Z" fill="#7c5724" stroke="#7c5724" stroke-width="0.8"/>
<path d="M1367.5 155L1377.5 151.2L1390 150L1400 155L1397.5 162.5L1385 161.2L1375 160.0Z" fill="#7c5724" stroke="#7c5724" stroke-width="0.8"/>
<path d="M1400 170L1410 161.2L1420 158.8L1428.8 165L1420 170L1407.5 173.8Z" fill="#7c5724" stroke="#7c5724" stroke-width="0.8"/>
<path d="M1588.8 197.5L1597.5 192.5L1610 193.8L1620 195L1628.8 197.5L1625 202.5L1615 203.8L1605 206.2L1595 203.8Z" fill="#7c5724" stroke="#7c5724" stroke-width="0.8"/>
<path d="M1636.2 200L1647.5 200L1658.8 202.5L1655 205.5L1642.5 204.5Z" fill="#7c5724" stroke="#7c5724" stroke-width="0.8"/>
<path d="M1606.2 216.2L1615 214.5L1622.5 218.8L1615 221.2L1608.8 220.0Z" fill="#7c5724" stroke="#7c5724" stroke-width="0.8"/>
<path d="M1801.2 241.2L1810 238L1821.2 238.8L1817.5 242.5L1807.5 244.5Z" fill="#7c5724" stroke="#7c5724" stroke-width="0.8"/>
<path d="M1617.5 377.5L1620 383.3L1620.8 393.3L1622.5 401.7L1625.8 410L1628.3 413.3L1624.2 415L1623.3 421.7L1621.7 428.3L1618.3 430.8L1615 429.2L1614.2 421.7L1615.8 410L1615 396.7L1614.2 386.7L1615 380.0Z" fill="#7c5724" stroke="#7c5724" stroke-width="0.8"/>
<path d="M1850 305.5L1857.5 306.2L1865.5 308.8L1864.5 311.2L1856.2 309.5Z" fill="#847e01" stroke="#847e01" stroke-width="0.8"/>
<path d="M1055 440L1100 453L1110 452.5L1117.5 454L1125 456L1131 460L1135 461L1138 435L1140 430L1137.5 425L1132.5 420L1128.8 415L1130 413.3L1133.3 405L1143.3 400L1156.7 396.7L1170 400L1183.3 401.7L1196.7 400.8L1203.3 398.3L1198.3 393.3L1201.7 385L1205 380L1220 376.7L1233.3 373.3L1243.3 369.2L1251.7 373.3L1255 378.3L1266.7 380.8L1280 377.5L1285 385L1293.3 391.7L1300 398.3L1310 401.7L1320 403.3L1326.7 406.7L1333.3 410L1336.7 410.8L1340 410L1355 405L1375 400L1390 394L1400 395L1412.5 402.5L1425 405L1440 407.5L1455 410L1470 409L1482.5 405L1492.5 400L1502.5 395L1507.5 387.5L1517.5 385L1527.5 385L1535 395L1542.5 407.5L1555 415L1567.5 418.8L1575 417.5L1572.5 430L1567.5 440L1562.5 445L1560 452.5L1552.5 465L1545 472.5L1547.5 480L1551 487.5L1550 496L1542.5 502.5L1535 500L1533.8 490L1535 480L1535 475L1530 467.5L1520 455L1480 455L1470 520L1440 570L1440 573.8L1435 577.5L1430 583.8L1431.2 590L1435 595L1440 600L1443.8 605L1447.5 611.2L1448.8 617.5L1447.5 622.5L1442.5 627.5L1437.5 630L1432.5 632.5L1428.8 635L1426.2 640L1423.8 636.2L1422.5 631.2L1418.8 627.5L1415 625L1410 620L1397.5 620L1395 632.5L1397.5 642.5L1405 651L1407.5 657.5L1415 665L1420 675L1422.5 682.5L1417.5 680L1410 672.5L1403.8 662.5L1400 657.5L1395 645L1391 635L1392.5 620L1393.8 615L1392.5 607.5L1390 600L1385 595L1380 600L1373.8 601.2L1372.5 595L1368.8 582.5L1365 570L1362.5 567.5L1355 565L1350 560L1300 560L1245 562.5L1240 565L1237.5 558.8L1227.5 555L1215 552.5L1202.5 551L1190 550L1177.5 547.5L1176 557.5L1182.5 562.5L1190 567.5L1192.5 575L1185 585L1175 595L1165 602.5L1152.5 607.5L1140 612.5L1125 617.5L1115 620L1112.5 615L1107.5 605L1100 595L1090 580L1082.5 565L1075 550L1067.5 535L1063.8 522.5L1065 520L1067.5 515L1070 507.5L1072.5 500L1073.8 492.5L1055 480.0Z" fill="#a6aaac" stroke="#a6aaac" stroke-width="0.8"/>
<path d="M1068.8 531.2L1082.5 517.5L1091.2 514.5L1105 519.5L1120 525L1136.2 528L1140 535L1147.5 545L1153.8 551.2L1160 556.2L1165 560L1172.5 557.5L1177.5 551.2L1178 557.5L1173.8 567.5L1170 575L1160 585L1145 592.5L1127.5 596.2L1112.5 600L1106.2 601.2L1100 590L1092.5 577.5L1085 565L1077.5 550L1071.2 540.0Z" fill="#7c5724" stroke="#7c5724" stroke-width="0.8"/>
<path d="M1335 412.5L1342.5 420L1352.5 427.5L1355 437.5L1370 442.5L1385 447.5L1400 452.5L1415 455L1430 455L1445 450L1460 445L1465 437.5L1477.5 433.8L1490 430L1500 425L1492.5 420L1482.5 417.5L1485 408.8L1497.5 407.5L1505 397.5L1507.5 387.5L1517.5 385L1527.5 385L1535 395L1542.5 407.5L1555 415L1567.5 418.8L1575 417.5L1572.5 430L1567.5 440L1562.5 445L1560 452.5L1550 457.5L1540 462.5L1530 467.5L1522.5 470L1512.5 466.2L1505 470L1495 475L1492.5 480L1500 482.5L1510 478.8L1515 482.5L1507.5 490L1500 497.5L1502.5 505L1510 515L1512.5 527.5L1510 540L1503.8 545L1500 546.2L1496.2 552.5L1492.5 558.8L1487.5 563.8L1480 566.2L1470 567.5L1461.2 571.2L1455 572.5L1453.8 577.5L1450 576.2L1448.8 571.8L1445 572.5L1440 573.8L1435 570L1427.5 563.8L1417.5 565L1411.2 567.5L1407.5 572.5L1400 570L1395 562.5L1390 556.2L1392.5 550L1390 540L1382.5 532.5L1375 530L1365 535L1355 536.2L1345 537.5L1335 532.5L1325 530L1315 527.5L1305 525L1300 517.5L1292.5 515L1295 505L1292.5 497.5L1282.5 492.5L1272.5 485L1267.5 475L1275 467.5L1285 465L1295 460L1305 455L1305 445L1310 437.5L1312.5 427.5L1325 422.5Z" fill="#847e01" stroke="#847e01" stroke-width="0.8"/>
<path d="M1445 585L1448.8 581.9L1453.8 580.6L1456.2 583.1L1455 586.9L1451.2 589.4L1446.9 589.4Z" fill="#847e01" stroke="#847e01" stroke-width="0.8"/>
<path d="M1503.1 561.2L1505 556.2L1508.8 553.1L1511.9 554.4L1511.2 560L1508.8 566.2L1506.2 568.8L1503.8 565.6Z" fill="#847e01" stroke="#847e01" stroke-width="0.8"/>
<path d="M1282.5 493.8L1292.5 497.5L1295 505L1292.5 515L1297.5 525L1300 528.8L1302.5 533.8L1312.5 538.8L1325 542.5L1337.5 545L1341.2 542.5L1348.8 543.8L1357.5 545L1362.5 541.2L1368.8 536.2L1375 531.9L1380 530.6L1385 533.8L1386.2 540L1382.5 545L1377.5 550L1372.5 556.2L1367.5 562.5L1365 568.8L1361.2 566.2L1360 560L1357.5 556.2L1352.5 556.2L1350 552.5L1343.8 550L1342.5 556.2L1343.8 562.5L1346.2 566.2L1342.5 568.8L1336.2 571.2L1332.5 576.2L1326.2 582.5L1320 587.5L1312.5 593.8L1307.5 598.8L1301.2 602.5L1298.8 607.5L1300 616.2L1298.1 625L1295 632.5L1290 638.8L1286.2 642.5L1281.2 637.5L1277.5 627.5L1273.8 617.5L1268.8 606.2L1265 595L1261.9 585L1261.2 576.2L1260 570L1255 575L1248.8 572.5L1243.8 568.8L1250 562.5L1243.8 565L1240 561.2L1241.2 558.8L1247.5 557.5L1252.5 555L1247.5 547.5L1246.2 540L1252.5 538.8L1260 535L1267.5 527.5L1271.2 520L1270 517.5L1267.5 507.5L1272.5 500.0Z" fill="#bdb533" stroke="#bdb533" stroke-width="0.8"/>
<path d="M1300 527.5L1303.8 525.6L1312.5 530L1322.5 533.8L1332.5 537.5L1341.2 538.8L1341.9 543.1L1337.5 545.6L1325 543.1L1312.5 539.4L1302.5 534.4Z" fill="#a6aaac" stroke="#a6aaac" stroke-width="0.8"/>
<path d="M1345 538.8L1350 536.2L1357.5 537.5L1360 541.2L1356.2 545L1348.8 544.4Z" fill="#a6aaac" stroke="#a6aaac" stroke-width="0.8"/>
<path d="M1343.8 546.9L1350 552.5L1352.5 556.2L1357.5 556.2L1360 560L1361.2 566.2L1358.8 570L1353.8 568.8L1350 570L1346.2 566.9L1343.8 562.5L1342.5 556.2Z" fill="#a6aaac" stroke="#a6aaac" stroke-width="0.8"/>
<path d="M1298.8 635L1302.5 636.2L1306.2 642.5L1307.5 648.8L1305 652.5L1300 653.1L1297.5 647.5L1296.9 640.0Z" fill="#a6aaac" stroke="#a6aaac" stroke-width="0.8"/>
<path d="M1388.3 585L1395 580.8L1403.3 580.8L1406.7 588.3L1413.3 591.7L1421.7 590L1426.7 596.7L1429.2 605L1426.7 611.7L1420 610.8L1413.3 613.3L1413.3 620L1406.7 615.8L1401.7 613.3L1399.2 620L1396.7 628.3L1397.5 636.7L1403.3 645L1408.3 650L1409.2 653.3L1403.3 651.7L1396.7 646.7L1392.5 638.3L1393.3 628.3L1395 618.3L1393.3 610L1390 601.7L1389.2 593.3Z" fill="#7c5724" stroke="#7c5724" stroke-width="0.8"/>
<path d="M1535 480L1547.5 480L1551.2 487.5L1550 496.2L1542.5 502.5L1535 500L1533.8 490.0Z" fill="#bdb533" stroke="#bdb533" stroke-width="0.8"/>
<path d="M1613.3 435.8L1618.3 438.3L1625 442.5L1631.7 445L1628.3 450L1621.7 451.7L1615 453.3L1610 456.7L1605 460.8L1602.5 459.2L1603.3 455L1608.3 448.3L1611.7 441.7Z" fill="#5b7616" stroke="#5b7616" stroke-width="0.8"/>
<path d="M1606.2 456.2L1612.5 462.5L1615.5 472.5L1612 485L1605.5 494.2L1595 498L1585 499.5L1575 500.8L1565 503.2L1557.5 505.8L1554.5 503L1562.5 497L1572.5 494.2L1585 489.2L1595 479.5L1602 470L1604.5 462.5Z" fill="#5b7616" stroke="#5b7616" stroke-width="0.8"/>
<path d="M1553.2 505.8L1560 507L1561.8 515L1557.5 519.2L1552 514.2Z" fill="#5b7616" stroke="#5b7616" stroke-width="0.8"/>
<path d="M1567.5 503.8L1576.2 501.8L1578 505.5L1570 508.2Z" fill="#5b7616" stroke="#5b7616" stroke-width="0.8"/>
<path d="M1025 470L1028.8 467.5L1037.5 463.8L1047.5 461.2L1055 458.8L1062.5 456.9L1070 457.5L1077.5 460L1085 461.9L1092.5 462.5L1098.8 461.2L1105 460L1111.2 461.2L1113.8 467.5L1117.5 473.8L1115 480L1117.5 485L1112.5 486.2L1105 486.2L1097.5 487.5L1090 488.1L1082.5 488.8L1076.2 490L1073.8 492.5L1071.2 487.5L1065 490L1057.5 491.9L1050 490L1043.8 487.5L1038.8 488.8L1033.8 485L1028.8 482.5L1027.5 477.5L1025 473.8Z" fill="#deae27" stroke="#deae27" stroke-width="0.8"/>
<path d="M1025 467.5L1030 465L1036.2 463.1L1035 466.2L1028.8 468.1Z" fill="#deae27" stroke="#deae27" stroke-width="0.8"/>
<path d="M1055.6 498.8L1060 496.2L1065 495L1062.5 498.1L1057.5 500.0Z" fill="#a6aaac" stroke="#a6aaac" stroke-width="0.8"/>
<path d="M1005 412.5L1010 400L1012.5 393.8L1022.5 392.5L1035 393.8L1047.5 395L1053.8 391.2L1060 390L1066.2 395L1072.5 402.5L1080 403.8L1087.5 407.5L1094.4 410.6L1093.8 417.5L1090 421.2L1085 425L1077.5 427.5L1070 428.8L1062.5 431.2L1055 430L1047.5 428.8L1042.5 430L1040 435L1030 432.5L1022.5 426.2L1020 420L1013.8 418.8L1007.5 417.5Z" fill="#deae27" stroke="#deae27" stroke-width="0.8"/>
<path d="M1058.8 433.8L1063.8 431.9L1070 433.8L1075 435.6L1077.5 437.5L1072.5 437.5L1067.5 438.8L1065 441.2L1061.2 440L1059.4 436.9Z" fill="#deae27" stroke="#deae27" stroke-width="0.8"/>
<path d="M766.2 288.8L771.2 283.8L780 282.5L786.2 286.2L783.8 292.5L775 295L768.8 293.8Z" fill="#a6aaac" stroke="#a6aaac" stroke-width="0.8"/>
<path d="M950 152.5L960 160L967.5 150L980 147.5L992.5 150L1005 147.5L1027.5 150L1022.5 156.2L1010 160L1000 165L1007.5 172.5L1012.5 177.5L1002.5 180L995 172.5L987.5 170L980 180L972.5 187.5L965 180L960 172.5L952.5 170L945 162.5Z" fill="#a6aaac" stroke="#a6aaac" stroke-width="0.8"/>
<path d="M1376.2 656.2L1385 657.5L1397.5 663.2L1410 671.5L1421.2 680.8L1427 689.5L1432.5 700L1434.2 711.2L1430 716.2L1422.5 711.8L1412.5 703L1402.5 693L1392.5 680.5L1382.5 668.0Z" fill="#deae27" stroke="#deae27" stroke-width="0.8"/>
<path d="M1430 716.2L1442.5 715L1455 718.8L1470 722.5L1485 725L1500 727.5L1515 728.8L1530 727.5L1535 730L1522.5 732.5L1507.5 732L1490 730L1472.5 727.5L1457.5 725L1440 722.5L1431.2 720.0Z" fill="#deae27" stroke="#deae27" stroke-width="0.8"/>
<path d="M1525 731.2L1535 727L1540 727.5L1532.5 731.2Z" fill="#a6aaac" stroke="#a6aaac" stroke-width="0.8"/>
<path d="M1446.2 678.8L1455 675L1465 677.5L1477.5 667.5L1485 662.5L1490 666.2L1492.5 677.5L1496.2 680L1490 687.5L1485 697.5L1480 703.8L1470 702.5L1460 700L1452.5 695L1447.5 687.5Z" fill="#deae27" stroke="#deae27" stroke-width="0.8"/>
<path d="M1457.5 676.2L1465 667.5L1477.5 657.5L1487.5 650L1495 655L1497.5 660L1490 666.2L1485 662.5L1477.5 667.5L1465 677.5Z" fill="#a6aaac" stroke="#a6aaac" stroke-width="0.8"/>
<path d="M1498.8 682.5L1510 680L1522.5 676.2L1527.5 677.5L1520 682.5L1510 685L1507.5 690L1515 695L1517.5 705L1512.5 710L1507.5 700L1503.8 705L1505 712.5L1500 711.2L1497.5 700L1500 690.0Z" fill="#deae27" stroke="#deae27" stroke-width="0.8"/>
<path d="M1541.2 675L1545 671.2L1546.2 680L1550 685L1545 687.5L1541.2 682.5Z" fill="#deae27" stroke="#deae27" stroke-width="0.8"/>
<path d="M1535 701.2L1542.5 700L1545 703.8L1537.5 705.0Z" fill="#deae27" stroke="#deae27" stroke-width="0.8"/>
<path d="M1550 697.5L1562.5 696.2L1567.5 699.5L1557.5 701.2Z" fill="#deae27" stroke="#deae27" stroke-width="0.8"/>
<path d="M1560 687.5L1570 686.2L1577.5 690L1575 695L1585 697.5L1595 692.5L1610 697.5L1610 730L1605 727.5L1600 722.5L1593.8 726.2L1595 720L1590 712.5L1580 705L1572.5 700L1565 695.0Z" fill="#deae27" stroke="#deae27" stroke-width="0.8"/>
<path d="M1610 697.5L1620 700L1632.5 705L1640 710L1635 715L1642.5 720L1650 727.5L1660 736.2L1652.5 737.5L1642.5 732.5L1632.5 727.5L1622.5 730L1610 730.0Z" fill="#a6aaac" stroke="#a6aaac" stroke-width="0.8"/>
<path d="M1652.5 712.5L1662.5 708.8L1670 705L1666.2 711.2L1657.5 715.0Z" fill="#a6aaac" stroke="#a6aaac" stroke-width="0.8"/>
<path d="M1506.2 590L1510 588.1L1514.4 591.2L1515 596.2L1512.5 601.2L1513.8 606.2L1517.5 610L1521.2 613.8L1523.8 616.2L1520 617.5L1515 615L1511.2 611.2L1507.5 607.5L1505 602.5L1503.1 598.8L1505 593.8Z" fill="#a6aaac" stroke="#a6aaac" stroke-width="0.8"/>
<path d="M1512.5 646.2L1517.5 643.8L1525 642.5L1530 645L1531.2 651.2L1527.5 655L1523.8 652.5L1520 653.8L1515 651.2Z" fill="#a6aaac" stroke="#a6aaac" stroke-width="0.8"/>
<path d="M1512.5 620L1516.2 621.2L1515.6 626.2L1512.5 625.0Z" fill="#a6aaac" stroke="#a6aaac" stroke-width="0.8"/>
<path d="M1517.5 625L1523.8 626.2L1525 632.5L1521.2 635L1518.1 631.2Z" fill="#a6aaac" stroke="#a6aaac" stroke-width="0.8"/>
<path d="M1516.2 638.8L1521.2 640L1520 643.8L1516.2 642.5Z" fill="#a6aaac" stroke="#a6aaac" stroke-width="0.8"/>
<path d="M1488.8 641.2L1492.5 636.2L1497.5 630L1501.2 625L1502.5 626.2L1498.8 632.5L1493.8 638.8L1490 643.1Z" fill="#a6aaac" stroke="#a6aaac" stroke-width="0.8"/>
<path d="M1461.2 827.5L1465 810L1472.5 800L1485 795L1500 787.5L1510 777.5L1520 767.5L1532.5 762.5L1545 765L1550 755L1560 750L1572.5 752.5L1577.5 762.5L1585 770L1597.5 777.5L1607.5 780L1610 765L1612.5 750L1616.2 745L1620 760L1625 770L1630 785L1637.5 797.5L1647.5 807.5L1657.5 817.5L1667.5 827.5L1671.2 840L1671.2 840L1667.5 855L1660 870L1655 882.5L1647.5 892.5L1635 897.5L1620 901.2L1610 897.5L1600 890L1590 882.5L1587.5 870L1580 877.5L1572.5 870L1560 863.8L1545 860L1530 862.5L1515 867.5L1497.5 872.5L1485 877.5L1470 872.5L1472.5 867.5L1471.2 855L1465 835L1460 822.5Z" fill="#deae27" stroke="#deae27" stroke-width="0.8"/>
<path d="M1626.2 915L1635 912.5L1645 913.8L1643.8 922.5L1637.5 931.2L1631.2 927.5L1627.5 921.2Z" fill="#deae27" stroke="#deae27" stroke-width="0.8"/>
<path d="M1772.5 867.5L1777.5 872.5L1785 880L1792.5 885L1800 886.2L1795 895L1787.5 907.5L1782.5 905L1780 897.5L1777.5 890L1778.8 882.5L1775 875.0Z" fill="#a6aaac" stroke="#a6aaac" stroke-width="0.8"/>
<path d="M1770 903.8L1777.5 907.5L1775 915L1767.5 922.5L1760 932.5L1750 940L1741.2 938.8L1740 933.8L1747.5 926.2L1757.5 917.5L1765 910.0Z" fill="#a6aaac" stroke="#a6aaac" stroke-width="0.8"/>
<path d="M1736.3 369.7L1738.3 370L1740.8 373.7L1738.7 373.3Z" fill="#847e01" stroke="#847e01" stroke-width="0.8"/>
<path d="M1770.3 385.3L1774.2 386L1777 389L1773.3 388.7Z" fill="#847e01" stroke="#847e01" stroke-width="0.8"/>
<path d="M1794.7 393L1798.3 393.7L1798.7 395L1795 394.7Z" fill="#847e01" stroke="#847e01" stroke-width="0.8"/>
<path d="M1813.3 394.7L1821.7 393.3L1828.7 392.7L1828.7 394L1821.7 395L1813.7 396.3Z" fill="#847e01" stroke="#847e01" stroke-width="0.8"/>
<path d="M1833.3 391.3L1841.7 389.7L1847 389.3L1847 390.7L1841.7 391.3L1833.7 393.0Z" fill="#847e01" stroke="#847e01" stroke-width="0.8"/>
<path d="M1855 388L1860 387L1860.3 388.3L1855.3 389.3Z" fill="#847e01" stroke="#847e01" stroke-width="0.8"/>
<path d="M1865 384.7L1871 382L1871.3 383.7L1865.7 386.3Z" fill="#847e01" stroke="#847e01" stroke-width="0.8"/>
<path d="M1682.5 403.7L1685.3 401.3L1686.2 402.5L1683.7 405.0Z" fill="#7c5724" stroke="#7c5724" stroke-width="0.8"/>
<path d="M1675.8 411.3L1678.3 409L1679.2 410.2L1676.7 412.5Z" fill="#7c5724" stroke="#7c5724" stroke-width="0.8"/>
<path d="M1664.2 424.7L1667.5 422L1668.3 423.3L1665 426.0Z" fill="#7c5724" stroke="#7c5724" stroke-width="0.8"/>
<path d="M1653.3 432.7L1657.5 430.3L1658.3 431.7L1654.3 434.0Z" fill="#7c5724" stroke="#7c5724" stroke-width="0.8"/>
<path d="M1641.7 439.2L1646.7 436.7L1647.3 438L1642.5 440.5Z" fill="#7c5724" stroke="#7c5724" stroke-width="0.8"/>
<path d="M436.2 137.5L447.5 140L462.5 141.2L470 143.1L482.5 140L495 136.2L497.5 133.1L490 134.4L482.5 137.5L472.5 140.6L462.5 138.8L448.8 137.5Z" fill="#f3f4f6" stroke="#f3f4f6" stroke-width="0.8"/>
<path d="M442.5 163.8L450 160L458.8 158.8L457.5 162.5L450 163.8L445 167.5Z" fill="#f3f4f6" stroke="#f3f4f6" stroke-width="0.8"/>
<path d="M252.5 286.2L265 282.5L277.5 279.5L287.5 283.8L282.5 288.8L275 290L270 296.2L262.5 293.8L257.5 288.8Z" fill="#f3f4f6" stroke="#f3f4f6" stroke-width="0.8"/>
<path d="M293.8 326.2L301.2 320L310 317.5L322.5 313.8L332.5 311.2L325 317.5L315 322.5L307.5 328L298.8 329.5Z" fill="#f3f4f6" stroke="#f3f4f6" stroke-width="0.8"/>
<path d="M376.2 385L382.5 380L387.5 375L392.5 372.5L393.8 382.5L396.2 392.5L398.8 401.2L393.8 402.5L388.8 392.5L383.8 397.5L380 392.5Z" fill="#f3f4f6" stroke="#f3f4f6" stroke-width="0.8"/>
<path d="M370 310L376.2 307.5L375 313.8L370.5 314.5Z" fill="#f3f4f6" stroke="#f3f4f6" stroke-width="0.8"/>
<path d="M380 335L385 328.8L386.2 333.8L381.2 338.8Z" fill="#f3f4f6" stroke="#f3f4f6" stroke-width="0.8"/>
<path d="M365 356.2L370 350L370.5 356.2L366.2 361.2Z" fill="#f3f4f6" stroke="#f3f4f6" stroke-width="0.8"/>
<path d="M405 411.2L410 407.5L411.2 412.5L406.2 415.0Z" fill="#f3f4f6" stroke="#f3f4f6" stroke-width="0.8"/>
<path d="M421.2 426.9L426.2 422.5L432.5 418.8L436.2 415L442.5 413.8L448.8 415.6L452.5 418.8L456.2 421.2L458.8 428.1L453.8 428.8L447.5 428.1L442.5 425.6L436.2 424.4L430 426.2L425 428.1Z" fill="#f3f4f6" stroke="#f3f4f6" stroke-width="0.8"/>
<path d="M442.5 438.8L447.5 433.8L455 431.9L457.5 433.8L452.5 438.8L450 445L450.6 453.8L448.8 458.8L444.4 459.4L442.5 453.8L443.1 445.0Z" fill="#f3f4f6" stroke="#f3f4f6" stroke-width="0.8"/>
<path d="M460 431.9L466.2 430.6L472.5 431.2L477.5 433.1L481.9 437.5L481.2 440.6L476.2 438.8L473.8 436.2L475 442.5L472.5 448.8L469.4 447.5L468.1 442.5L465 445L462.5 445.6L463.8 441.2L466.2 437.5L462.5 435.0Z" fill="#f3f4f6" stroke="#f3f4f6" stroke-width="0.8"/>
<path d="M465 458.1L470 455L477.5 452.5L485 450L487.5 451.2L485 453.8L478.8 456.9L471.2 460L466.2 460.6Z" fill="#f3f4f6" stroke="#f3f4f6" stroke-width="0.8"/>
<path d="M485 446.2L490 444.4L496.2 443.1L501.2 443.1L501.9 445.6L497.5 447.5L490 448.5L486.2 448.5Z" fill="#f3f4f6" stroke="#f3f4f6" stroke-width="0.8"/>
<path d="M436.9 405.6L439.4 405L441.2 407.5L439.4 410L436.9 408.8Z" fill="#f3f4f6" stroke="#f3f4f6" stroke-width="0.8"/>
<path d="M403.8 411.2L406.9 408.1L410.6 409.4L409.4 412.5L405.6 414.4Z" fill="#f3f4f6" stroke="#f3f4f6" stroke-width="0.8"/>
<path d="M523.1 632.5L525.6 631.2L526.9 635L525 638.1L523.1 636.2Z" fill="#f3f4f6" stroke="#f3f4f6" stroke-width="0.8"/>
<path d="M1045 325L1050 322.5L1056.2 326.2L1057.5 332.5L1052.5 335L1047.5 331.2Z" fill="#f3f4f6" stroke="#f3f4f6" stroke-width="0.8"/>
<path d="M1066.2 318.8L1070 312.5L1072.5 317.5L1076.2 323.8L1072.5 327.5L1068.8 322.5Z" fill="#f3f4f6" stroke="#f3f4f6" stroke-width="0.8"/>
<path d="M1070 297.5L1083.8 297.5L1083.1 304.4L1077.5 305L1072.5 302.5Z" fill="#f3f4f6" stroke="#f3f4f6" stroke-width="0.8"/>
<path d="M1422.5 397.5L1430 390L1440 382.5L1445 372.5L1450 366.2L1451.2 371.2L1446.2 381.2L1438.8 391.2L1428.8 398.8Z" fill="#f3f4f6" stroke="#f3f4f6" stroke-width="0.8"/>
<path d="M1031.2 453.8L1033.8 447.5L1038.8 440L1046.2 431.2L1052.5 428.5L1057.5 432.5L1060 440L1065 441.9L1070 439.4L1077.5 437.5L1082.5 438.8L1090 443.8L1097.5 448.8L1102.5 453.8L1103.8 458.8L1098.8 461.2L1092.5 462.5L1085 461.9L1077.5 460L1070 457.5L1062.5 456.9L1055 458.8L1047.5 461.2L1041.2 461.2L1035 460.0Z" fill="#f3f4f6" stroke="#f3f4f6" stroke-width="0.8"/>
<path d="M1070 431.2L1075 427.5L1082.5 425L1090 423.1L1092.5 425L1087.5 428.8L1085 432.5L1080 436.2L1075 435.0Z" fill="#f3f4f6" stroke="#f3f4f6" stroke-width="0.8"/>
<path d="M1130 441L1132.5 436L1139 431L1145 427L1152.5 425L1159 427L1160 432.5L1155 436L1151 441L1149 446L1155 455L1160 470L1166 485L1155 489L1147 480L1141 465L1136 455L1131 447.0Z" fill="#f3f4f6" stroke="#f3f4f6" stroke-width="0.8"/>
<path d="M1187.5 436.2L1191.2 431.2L1197.5 428.1L1205 426.9L1202.5 432.5L1203.8 437.5L1198.8 443.8L1195 441.2L1190 440.0Z" fill="#f3f4f6" stroke="#f3f4f6" stroke-width="0.8"/>
<path d="M1136.2 526.2L1140 534.5L1147.5 544.5L1153.8 550.8L1160 555.8L1165 559.5L1172.5 557.5L1177 552.5L1181.2 553L1176.2 548.2L1167.5 545.8L1157.5 539.5L1150 532L1142.5 524.5Z" fill="#f3f4f6" stroke="#f3f4f6" stroke-width="0.8"/>
</g></g>
<g filter="url(#soft)">
<line x1="857" y1="244" x2="917.5" y2="391" stroke="#8c7f0e" stroke-width="2.6" stroke-opacity="0.8"/>
<line x1="934.5" y1="268" x2="935.5" y2="382" stroke="#5b7616" stroke-width="2.6" stroke-opacity="0.8"/>
<line x1="808" y1="305.5" x2="863" y2="357" stroke="#5b7616" stroke-width="2.6" stroke-opacity="0.8"/>
<line x1="1001.7" y1="310.4" x2="991" y2="376" stroke="#bdb533" stroke-width="2.6" stroke-opacity="0.8"/>
<line x1="797.5" y1="395.5" x2="872" y2="418" stroke="#5b7616" stroke-width="2.6" stroke-opacity="0.8"/>
<line x1="1106.9" y1="361.9" x2="1072" y2="403" stroke="#deae27" stroke-width="2.6" stroke-opacity="0.8"/>
<line x1="791" y1="486.3" x2="853" y2="474" stroke="#8c7f0e" stroke-width="2.6" stroke-opacity="0.8"/>
<line x1="1174" y1="474" x2="1114" y2="476" stroke="#deae27" stroke-width="2.6" stroke-opacity="0.8"/>
<line x1="981" y1="538.7" x2="975.5" y2="464" stroke="#5b7616" stroke-width="2.6" stroke-opacity="0.8"/>
<line x1="1662.5" y1="502" x2="1607" y2="493" stroke="#5b7616" stroke-width="2.6" stroke-opacity="0.8"/>
<line x1="1608.6" y1="569.3" x2="1549" y2="498" stroke="#bdb533" stroke-width="2.6" stroke-opacity="0.8"/>
<line x1="178" y1="568.1" x2="352" y2="568.1" stroke="#bdb533" stroke-width="2.6" stroke-opacity="0.8"/>
<line x1="1561.4" y1="627.3" x2="1509" y2="562.5" stroke="#847e01" stroke-width="2.6" stroke-opacity="0.8"/>
<line x1="1204" y1="654.5" x2="1173.5" y2="563" stroke="#7c5724" stroke-width="2.6" stroke-opacity="0.8"/>
<line x1="1344" y1="685" x2="1396.5" y2="612" stroke="#7c5724" stroke-width="2.6" stroke-opacity="0.8"/>
<line x1="1716.5" y1="712" x2="1610" y2="712.5" stroke="#deae27" stroke-width="2.6" stroke-opacity="0.8"/>
<line x1="907.5" y1="848.5" x2="982" y2="851" stroke="#7c5724" stroke-width="2.6" stroke-opacity="0.8"/>
<circle cx="857" cy="244" r="36" fill="#8c7f0e"/>
<circle cx="934.5" cy="268" r="36" fill="#5b7616"/>
<circle cx="808" cy="305.5" r="36" fill="#5b7616"/>
<circle cx="1001.7" cy="310.4" r="36" fill="#bdb533"/>
<circle cx="797.5" cy="395.5" r="36" fill="#5b7616"/>
<circle cx="1106.9" cy="361.9" r="36" fill="#deae27"/>
<circle cx="791" cy="486.3" r="36" fill="#8c7f0e"/>
<circle cx="1174" cy="474" r="36" fill="#deae27"/>
<circle cx="981" cy="538.7" r="36" fill="#5b7616"/>
<circle cx="1662.5" cy="502" r="36" fill="#5b7616"/>
<circle cx="1608.6" cy="569.3" r="36" fill="#bdb533"/>
<circle cx="178" cy="568.1" r="36" fill="#bdb533"/>
<circle cx="1561.4" cy="627.3" r="36" fill="#847e01"/>
<circle cx="1204" cy="654.5" r="36" fill="#7c5724"/>
<circle cx="1344" cy="685" r="36" fill="#7c5724"/>
<circle cx="1716.5" cy="712" r="36" fill="#deae27"/>
<circle cx="907.5" cy="848.5" r="36" fill="#7c5724"/>
</g>
<text class="lab" transform="translate(857 239.4) scale(0.755 1)" font-size="24.2">7</text>
<text class="lab" transform="translate(857 263.1) scale(0.755 1)" font-size="24.2">NLD</text>
<text class="lab" transform="translate(934.5 263.4) scale(0.755 1)" font-size="24.2">1</text>
<text class="lab" transform="translate(934.5 287.1) scale(0.755 1)" font-size="24.2">DEU</text>
<text class="lab" transform="translate(808 300.9) scale(0.755 1)" font-size="24.2">4</text>
<text class="lab" transform="translate(808 324.6) scale(0.755 1)" font-size="24.2">UK</text>
<text class="lab" transform="translate(1001.7 305.79999999999995) scale(0.755 1)" font-size="24.2">14</text>
<text class="lab" transform="translate(1001.7 329.5) scale(0.755 1)" font-size="24.2">POL</text>
<text class="lab" transform="translate(797.5 390.9) scale(0.755 1)" font-size="24.2">3</text>
<text class="lab" transform="translate(797.5 414.6) scale(0.755 1)" font-size="24.2">FRA</text>
<text class="lab" transform="translate(1106.9 357.29999999999995) scale(0.755 1)" font-size="24.2">19</text>
<text class="lab" transform="translate(1106.9 381.0) scale(0.755 1)" font-size="24.2">UKR</text>
<text class="lab" transform="translate(791 481.7) scale(0.755 1)" font-size="24.2">6</text>
<text class="lab" transform="translate(791 505.40000000000003) scale(0.755 1)" font-size="24.2">ESP</text>
<text class="lab" transform="translate(1174 469.4) scale(0.755 1)" font-size="24.2">16</text>
<text class="lab" transform="translate(1174 493.1) scale(0.755 1)" font-size="24.2">TUR</text>
<text class="lab" transform="translate(981 534.1) scale(0.755 1)" font-size="24.2">1</text>
<text class="lab" transform="translate(981 557.8000000000001) scale(0.755 1)" font-size="24.2">ITA</text>
<text class="lab" transform="translate(1662.5 497.4) scale(0.755 1)" font-size="24.2">5</text>
<text class="lab" transform="translate(1662.5 521.1) scale(0.755 1)" font-size="24.2">JPN</text>
<text class="lab" transform="translate(1608.6 564.6999999999999) scale(0.755 1)" font-size="24.2">13</text>
<text class="lab" transform="translate(1608.6 588.4) scale(0.755 1)" font-size="24.2">KOR</text>
<text class="lab" transform="translate(178 563.5) scale(0.755 1)" font-size="24.2">12</text>
<text class="lab" transform="translate(178 587.2) scale(0.755 1)" font-size="24.2">MEX</text>
<text class="lab" transform="translate(1561.4 622.6999999999999) scale(0.755 1)" font-size="24.2">9</text>
<text class="lab" transform="translate(1561.4 646.4) scale(0.755 1)" font-size="24.2">TWN</text>
<text class="lab" transform="translate(1204 649.9) scale(0.755 1)" font-size="24.2">24</text>
<text class="lab" transform="translate(1204 673.6) scale(0.755 1)" font-size="24.2">UAE</text>
<text class="lab" transform="translate(1344 680.4) scale(0.755 1)" font-size="24.2">22</text>
<text class="lab" transform="translate(1344 704.1) scale(0.755 1)" font-size="24.2">THA</text>
<text class="lab" transform="translate(1716.5 707.4) scale(0.755 1)" font-size="24.2">17</text>
<text class="lab" transform="translate(1716.5 731.1) scale(0.755 1)" font-size="24.2">IDN</text>
<text class="lab" transform="translate(907.5 843.9) scale(0.755 1)" font-size="24.2">23</text>
<text class="lab" transform="translate(907.5 867.6) scale(0.755 1)" font-size="24.2">ZAF</text>
<text class="lab" transform="translate(302 363.8) scale(0.755 1)" font-size="24.2">10</text>
<text class="lab" transform="translate(302 387.5) scale(0.755 1)" font-size="24.2">CAN</text>
<text class="lab" transform="translate(375 486.2) scale(0.755 1)" font-size="24.2">10 USA</text>
<text class="lab" transform="translate(1389.3 324.5) scale(0.755 1)" font-size="24.2">21 RUS</text>
<text class="lab" transform="translate(1420 510) scale(0.755 1)" font-size="24.2">8 CHN</text>
<text class="lab" transform="translate(1113 557.5) scale(0.755 1)" font-size="24.2">25</text>
<text class="lab" transform="translate(1120.6 580) scale(0.755 1)" font-size="24.2">SAU</text>
<text class="lab" transform="translate(1287 560) scale(0.755 1)" font-size="24.2">15</text>
<text class="lab" transform="translate(1292.5 583.7) scale(0.755 1)" font-size="24.2">IND</text>
<text class="lab" transform="translate(635.6 732.5) scale(0.755 1)" font-size="24.2">20</text>
<text class="lab" transform="translate(635.6 756) scale(0.755 1)" font-size="24.2">BRA</text>
<text class="lab" transform="translate(1567.5 836) scale(0.755 1)" font-size="24.2">18 AUS</text>
<text x="737" y="994" font-family="Liberation Sans, sans-serif" font-size="40" fill="#3a3b3e" stroke="#f3f4f6" stroke-width="0.9" textLength="913" lengthAdjust="spacingAndGlyphs">The 2018 International Energy Efficiency Scorecard</text>
<text x="33.6" y="1064.8" font-family="Liberation Sans, sans-serif" font-weight="700" font-size="20.4" fill="#0d0d0d" textLength="243" lengthAdjust="spacingAndGlyphs">Figure 2. Rankings by country</text>
<g><path d="M70.06 110.50 A52 52 0 0 1 119.50 61.06 L119.50 83.61 A29.5 29.5 0 0 0 92.61 110.50 Z" fill="#f7e51d"/><path d="M70.06 115.50 A52 52 0 0 0 119.50 164.94 L119.50 142.39 A29.5 29.5 0 0 1 92.61 115.50 Z" fill="#e42a25"/><path d="M173.94 115.50 A52 52 0 0 1 124.50 164.94 L124.50 142.39 A29.5 29.5 0 0 0 151.39 115.50 Z" fill="#1c338c"/><text x="123.5" y="79" font-family="Liberation Sans, sans-serif" font-weight="700" font-size="21.5" fill="#000" stroke="#000" stroke-width="0.6" textLength="51.5" lengthAdjust="spacingAndGlyphs">SHK</text><text x="124.5" y="110" font-family="Liberation Sans, sans-serif" font-weight="700" font-size="37" fill="#000" stroke="#000" stroke-width="0.9" textLength="49.5" lengthAdjust="spacingAndGlyphs">TV</text></g>
<g><text x="57.7" y="992" font-family="Liberation Sans, sans-serif" font-weight="700" font-size="51.5" fill="#8b8e93" textLength="173.5" lengthAdjust="spacingAndGlyphs">ACEEE</text><g fill="#6db7e9"><ellipse cx="240.7" cy="960.5" rx="5.2" ry="4.4"/><ellipse cx="253.9" cy="960.5" rx="5.2" ry="4.4"/><ellipse cx="240.7" cy="974.7" rx="5.2" ry="4.4"/><ellipse cx="253.9" cy="974.7" rx="5.2" ry="4.4"/><ellipse cx="240.7" cy="989" rx="5.2" ry="4.4"/><ellipse cx="253.9" cy="989" rx="5.2" ry="4.4"/></g><text x="58.4" y="1007.3" font-family="Liberation Sans, sans-serif" font-size="11" fill="#9c9fa4" textLength="197.6" lengthAdjust="spacingAndGlyphs">American Council for an Energy-Efficient Economy</text><g fill="#84878b" fill-opacity="0.88" stroke="#c9cbce" stroke-width="0.6" font-family="Liberation Sans, sans-serif" font-weight="700"><text x="71.6" y="975" font-size="16.2" textLength="30" lengthAdjust="spacingAndGlyphs">SHK</text><text x="73.5" y="993.3" font-size="20.4" textLength="23.5" lengthAdjust="spacingAndGlyphs">TV</text><text x="111.7" y="993" font-size="40.5" textLength="121" lengthAdjust="spacingAndGlyphs">NEWS</text></g></g>
</svg></body></html>
